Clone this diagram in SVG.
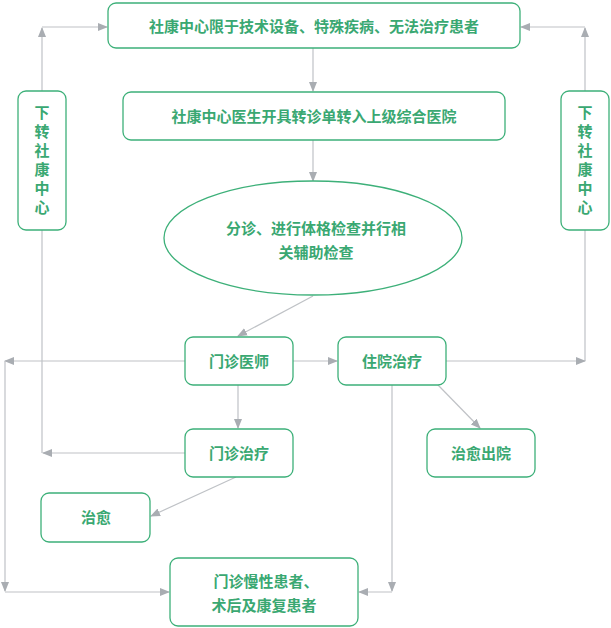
<svg xmlns="http://www.w3.org/2000/svg" width="611" height="628" viewBox="0 0 611 628">
<style>
.n{fill:#fff;stroke:#3db079;stroke-width:1.3}
.t{fill:#3aa872;font-family:"Noto Sans CJK SC",sans-serif;font-weight:bold;font-size:15px;text-anchor:middle}
.c{fill:none;stroke:#bfc2c6;stroke-width:1.2}
</style>
<defs><marker id="a" viewBox="0 0 10 10" refX="9" refY="5" markerWidth="10" markerHeight="10" markerUnits="userSpaceOnUse" orient="auto"><path d="M0,1 L10,5 L0,9 z" fill="#a9adb2"/></marker></defs>
<g id="connectors">
<path class="c" d="M42,91 V28" marker-end="url(#a)"/>
<path class="c" d="M42,27 H107" marker-end="url(#a)"/>
<path class="c" d="M585,91 V28" marker-end="url(#a)"/>
<path class="c" d="M585,27 H521" marker-end="url(#a)"/>
<path class="c" d="M313,48 V91" marker-end="url(#a)"/>
<path class="c" d="M313,140 V181" marker-end="url(#a)"/>
<path class="c" d="M313,296 L238,336" marker-end="url(#a)"/>
<path class="c" d="M185,361 H5" marker-end="url(#a)"/>
<path class="c" d="M5,361 V591" marker-end="url(#a)"/>
<path class="c" d="M5,592 H169" marker-end="url(#a)"/>
<path class="c" d="M293,361 H337" marker-end="url(#a)"/>
<path class="c" d="M585,230 V361"/>
<path class="c" d="M446,361 H585" marker-end="url(#a)"/>
<path class="c" d="M238,385 V428" marker-end="url(#a)"/>
<path class="c" d="M42,230 V453"/>
<path class="c" d="M185,453 H43" marker-end="url(#a)"/>
<path class="c" d="M236,477 L151,516" marker-end="url(#a)"/>
<path class="c" d="M438,385 L480,428" marker-end="url(#a)"/>
<path class="c" d="M392,385 V591" marker-end="url(#a)"/>
<path class="c" d="M392,592 H359" marker-end="url(#a)"/>
</g>
<g id="n1"><rect class="n" x="108" y="3" width="412" height="45" rx="8"/><text class="t" x="314" y="32">社康中心限于技术设备、特殊疾病、无法治疗患者</text></g>
<g id="n2"><rect class="n" x="123" y="92" width="382" height="48" rx="8"/><text class="t" x="314" y="122">社康中心医生开具转诊单转入上级综合医院</text></g>
<g id="n3"><ellipse class="n" cx="313" cy="238" rx="149" ry="57"/><text class="t" x="316" y="234">分诊、进行体格检查并行相</text><text class="t" x="316" y="258">关辅助检查</text></g>
<g id="n4"><rect class="n" x="185" y="337" width="108" height="48" rx="8"/><text class="t" x="239" y="367">门诊医师</text></g>
<g id="n5"><rect class="n" x="338" y="337" width="108" height="48" rx="8"/><text class="t" x="392" y="367">住院治疗</text></g>
<g id="n6"><rect class="n" x="185" y="429" width="108" height="48" rx="8"/><text class="t" x="239" y="459">门诊治疗</text></g>
<g id="n7"><rect class="n" x="427" y="429" width="108" height="48" rx="8"/><text class="t" x="481" y="459">治愈出院</text></g>
<g id="n8"><rect class="n" x="41" y="493" width="109" height="49" rx="8"/><text class="t" x="96" y="523">治愈</text></g>
<g id="n9"><rect class="n" x="170" y="558" width="188" height="68" rx="8"/><text class="t" x="266" y="587">门诊慢性患者、</text><text class="t" x="264" y="611">术后及康复患者</text></g>
<g id="n10"><rect class="n" x="18" y="91" width="48" height="139" rx="8"/><text class="t" x="42"><tspan x="42" y="118">下</tspan><tspan x="42" y="137">转</tspan><tspan x="42" y="156">社</tspan><tspan x="42" y="175">康</tspan><tspan x="42" y="194">中</tspan><tspan x="42" y="213">心</tspan></text></g>
<g id="n11"><rect class="n" x="561" y="91" width="48" height="139" rx="8"/><text class="t" x="585"><tspan x="585" y="118">下</tspan><tspan x="585" y="137">转</tspan><tspan x="585" y="156">社</tspan><tspan x="585" y="175">康</tspan><tspan x="585" y="194">中</tspan><tspan x="585" y="213">心</tspan></text></g>
</svg>
